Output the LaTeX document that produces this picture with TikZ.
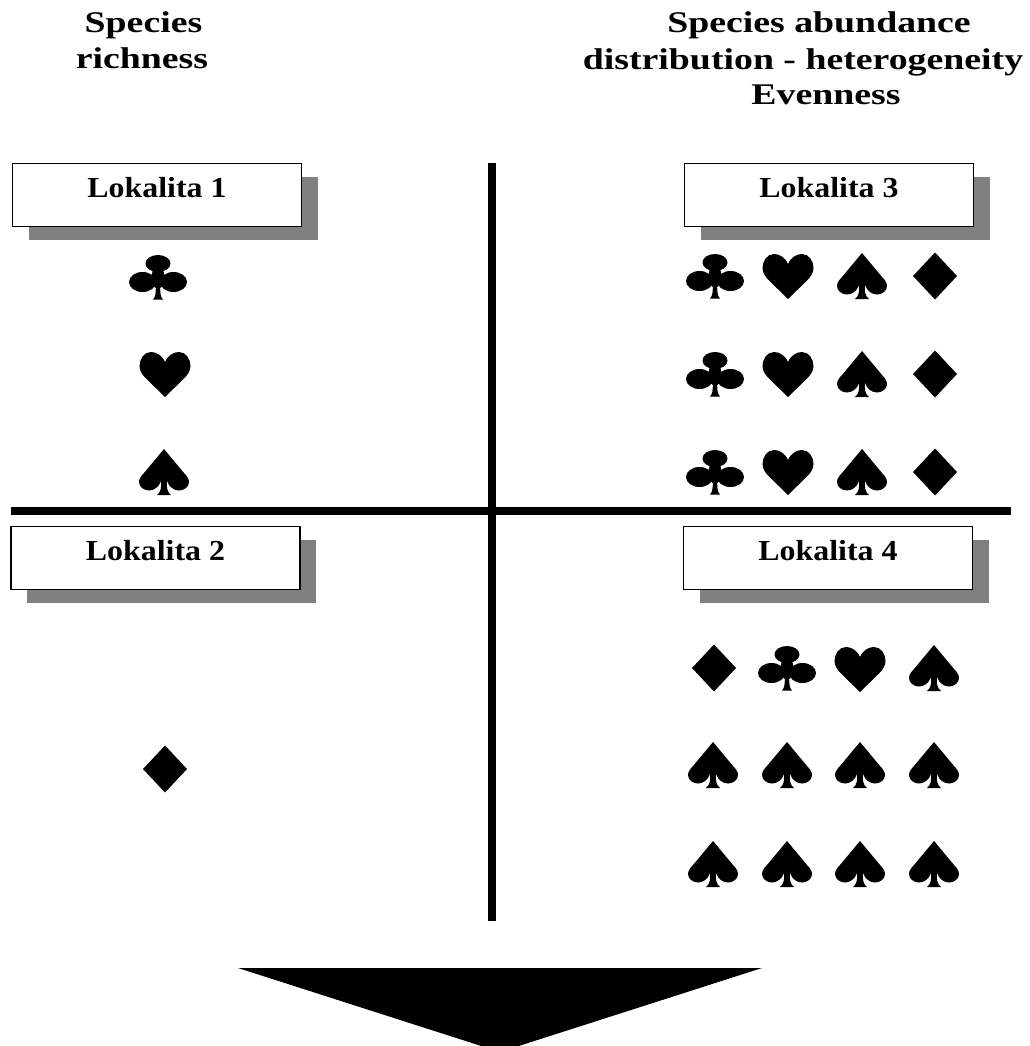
\documentclass[tikz,border=0pt]{standalone}
\usepackage{fontspec}
\usetikzlibrary{shadows}
\setmainfont[FakeStretch=1.26]{Liberation Serif}
\newfontfamily\lokfont[FakeStretch=1.1]{Liberation Serif}
\definecolor{shadowgray}{gray}{0.5}
\tikzset{
  headlabel/.style={font=\fontsize{30}{32}\selectfont\bfseries,anchor=base,inner sep=0pt},
  lokbox/.style={draw=black,line width=1.8pt,fill=white,minimum width=289pt,minimum height=63pt,
    font=\fontsize{29}{30}\selectfont\lokfont\bfseries,inner sep=0pt,text height=20pt,text depth=15pt,
    drop shadow={shadow xshift=16pt,shadow yshift=-13pt,fill=shadowgray,opacity=1}},
  bar/.style={line width=7.5pt,black},
  spadesuit/.pic={
    \fill (0,-23) -- (-20,1) .. controls (-23,4) and (-25,7) .. (-25,10)
      .. controls (-25,15) and (-20,18.5) .. (-15,18.5)
      .. controls (-10,18.5) and (-5,15) .. (-3,9)
      .. controls (-2.5,15) and (-3,20) .. (-7,23) -- (7,23)
      .. controls (3,20) and (2.5,15) .. (3,9)
      .. controls (5,15) and (10,18.5) .. (15,18.5)
      .. controls (20,18.5) and (25,15) .. (25,10)
      .. controls (25,7) and (23,4) .. (20,1) -- cycle;},
  heartsuit/.pic={
    \fill (0,-12) .. controls (-3,-19) and (-9,-22) .. (-14,-22)
      .. controls (-21,-22) and (-25.5,-15) .. (-25.5,-8)
      .. controls (-25.5,-3) and (-22.5,1) .. (-19,4.5) -- (0,23) -- (19,4.5)
      .. controls (22.5,1) and (25.5,-3) .. (25.5,-8)
      .. controls (25.5,-15) and (21,-22) .. (14,-22)
      .. controls (9,-22) and (3,-19) .. (0,-12) -- cycle;},
  clubsuit/.pic={
    \fill (0,-13.5) ellipse [x radius=12.5,y radius=8.5];
    \fill (-15.5,5) ellipse [x radius=13.5,y radius=10];
    \fill (15.5,5) ellipse [x radius=13.5,y radius=10];
    \fill (-5,-8) -- (5,-8) -- (8,6) -- (2.2,11)
      .. controls (2.2,16) and (2.5,20) .. (5,22.5) -- (-5,22.5)
      .. controls (-2.5,20) and (-2.2,16) .. (-2.2,11) -- (-8,6) -- cycle;},
  diamondsuit/.pic={
    \fill (0,-23.5) -- (22,0) -- (0,23.5) -- (-22,0) -- cycle;}
}
\begin{document}
\begin{tikzpicture}[x=1pt,y=-1pt]
\useasboundingbox (0,0) rectangle (1029,1046);
% headings
\node[headlabel] (species) at (143.5,33) {Species};
\node[headlabel] (richness) at (142,69) {richness};
\node[headlabel] (abundance) at (819,33) {Species abundance};
\node[headlabel] (distribution) at (803,70) {distribution - heterogeneity};
\node[headlabel] (evenness) at (826,105) {Evenness};
% boxes
\node[lokbox] (lok1) at (157,195) {Lokalita 1};
\node[lokbox] (lok2) at (155.5,558) {Lokalita 2};
\node[lokbox] (lok3) at (829,195) {Lokalita 3};
\node[lokbox] (lok4) at (828,558) {Lokalita 4};
% axes
\coordinate (top) at (492,163);
\coordinate (bottom) at (492,921);
\coordinate (left) at (11,511);
\coordinate (right) at (1011,511);
\draw[bar] (top) -- (bottom);
\draw[bar] (left) -- (right);
% left column
\pic (c1) at (158,277) {clubsuit};
\pic (h1) at (165,374) {heartsuit};
\pic (s1) at (164,472) {spadesuit};
\pic (d2) at (165,769) {diamondsuit};
% right column
\foreach \y/\n in {276/a,374/b,472/c}{
  \pic (c\n) at (715,\y) {clubsuit};
  \pic (h\n) at (788,\y) {heartsuit};
  \pic (s\n) at (862,\y) {spadesuit};
  \pic (d\n) at (935,\y) {diamondsuit};
}
\pic (d4) at (714,668) {diamondsuit};
\pic (c4) at (787,668) {clubsuit};
\pic (h4) at (860,669) {heartsuit};
\pic (s4) at (934,668) {spadesuit};
\foreach \y/\n in {765/e,864/f}
  \foreach \x/\m in {713/1,787/2,860/3,934/4}
    \pic (s\n\m) at (\x,\y) {spadesuit};
% arrow
\coordinate (arrowl) at (238,968);
\coordinate (arrowr) at (762,968);
\coordinate (arrowt) at (500,1052);
\fill[black] (arrowl) -- (arrowr) -- (arrowt) -- cycle;
\end{tikzpicture}
\end{document}
